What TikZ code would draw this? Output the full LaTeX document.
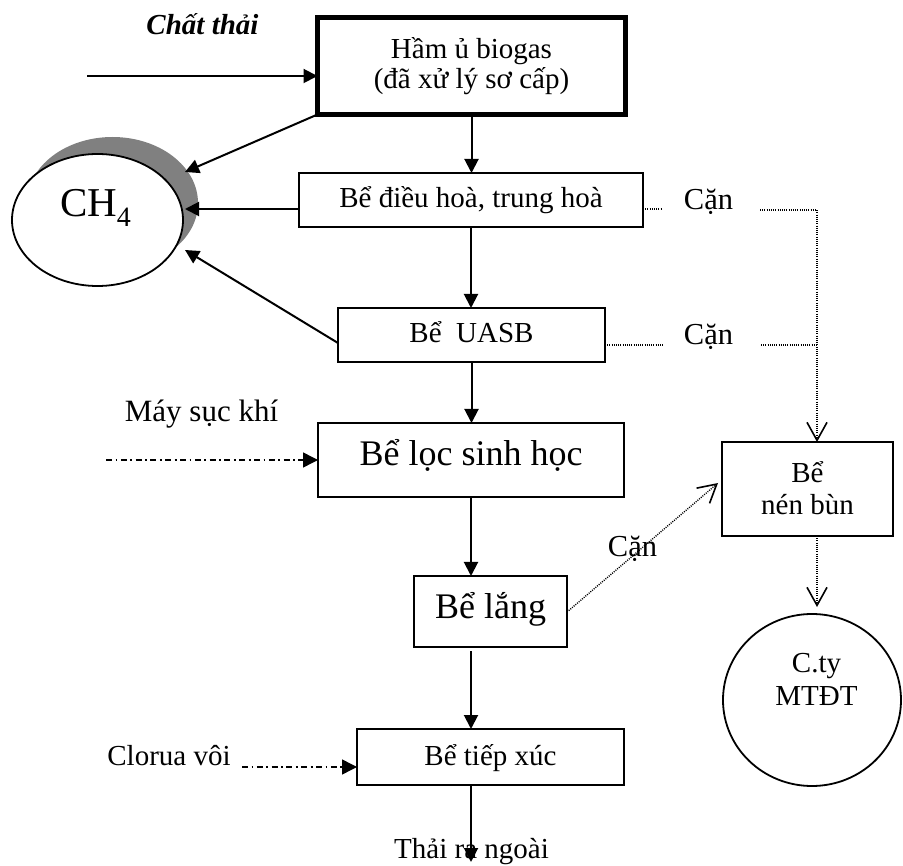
\documentclass[tikz,border=0pt]{standalone}
\usepackage{fontspec}
\setmainfont{Liberation Serif}
\usetikzlibrary{arrows.meta,shapes.geometric,shadows}

\begin{document}
\begin{tikzpicture}[x=1pt,y=-1pt,
  every node/.style={inner sep=0pt, outer sep=0pt},
  txt/.style={font=\fontsize{29}{30}\selectfont},
  bigtxt/.style={font=\fontsize{36}{40}\selectfont},
  stage/.style={draw, line width=2pt, rectangle, txt, text height=20pt, text depth=5pt},
  bigstage/.style={stage, bigtxt, text height=17pt, text depth=6pt},
  arr/.style={line width=2pt, -{Triangle[length=14pt,width=14pt]}},
  feed/.style={line width=1.5pt, dash pattern=on 6pt off 3.5pt on 1.8pt off 3.5pt,
               -{Triangle[length=15pt,width=15pt]}},
  sludge/.style={line width=1.4pt, dash pattern=on 1pt off 1.2pt},
  sludgearr/.style={sludge, -{Straight Barb[length=18pt,width=20pt,line width=1.6pt]}},
  sludgelabel/.style={anchor=base, font=\fontsize{30.5}{32}\selectfont},
]
\useasboundingbox (0,0) rectangle (903,866);

% treatment stages
\node[draw, line width=5pt, rectangle, txt, align=center,
      minimum width=308pt, minimum height=97pt] (ham) at (471.5,66)
      {Hầm ủ biogas\\(đã xử lý sơ cấp)};
\node[stage, minimum width=344pt, minimum height=54pt] (dieuhoa) at (471,200)
      {Bể điều hoà, trung hoà};
\node[stage, text height=21pt, minimum width=267pt, minimum height=54pt] (uasb) at (471.5,335)
      {Bể~\ UASB};
\node[bigstage, minimum width=306pt, minimum height=74pt] (loc) at (471,460)
      {Bể lọc sinh học};
\node[bigstage, text height=18pt, text depth=5pt, minimum width=153pt, minimum height=71pt] (lang) at (490.5,611.5)
      {Bể lắng};
\node[stage, text height=21pt, minimum width=267pt, minimum height=56pt] (tiepxuc) at (490.5,757)
      {Bể tiếp xúc};
\node[draw, line width=2pt, rectangle, align=center, font=\fontsize{29}{32}\selectfont,
      minimum width=171pt, minimum height=94pt] (nenbun) at (807.5,489)
      {\raisebox{3pt}{Bể}\\\raisebox{3pt}{nén bùn}};

% biogas collector with its shadow
\node[ellipse, draw, fill=white, line width=1.8pt, minimum width=171pt, minimum height=132pt,
      drop shadow={shadow xshift=15pt, shadow yshift=17pt, fill=black!50, opacity=1}]
      (ch4) at (97.5,220) {};
\node[anchor=base west, font=\fontsize{41}{41}\selectfont] (ch4txt) at (60,217)
      {CH\raisebox{-10pt}{\fontsize{28}{28}\selectfont 4}};

% sludge receiver
\node[ellipse, draw, line width=1.8pt, minimum width=178pt, minimum height=172pt]
      (cty) at (812,700) {};
\node[anchor=base, txt] (cty1) at (816.5,672) {C.ty};
\node[anchor=base, txt] (cty2) at (816.5,705) {MTĐT};

% free labels
\node[anchor=base, font=\fontsize{29}{30}\selectfont\bfseries\itshape] (chatthai) at (202.5,35) {Chất thải};
\node[anchor=base, font=\fontsize{31}{32}\selectfont] (maysuc) at (201.5,422) {Máy sục khí};
\node[anchor=base, txt] (clorua) at (169,765) {Clorua vôi};
\node[sludgelabel] (can1) at (708.5,210) {Cặn};
\node[sludgelabel] (can2) at (708.5,345) {Cặn};
\node[sludgelabel] (can3) at (632.5,557) {Cặn};
\node[anchor=base, txt] (thaira) at (471.5,858) {Thải ra ngoài};

% free ends of connectors
\coordinate (srcin) at (87,76);
\coordinate (ch4a) at (185,172);
\coordinate (ch4b) at (185,209);
\coordinate (ch4c) at (185,250);
\coordinate (c1a) at (662,209);
\coordinate (c1b) at (760,210);
\coordinate (c2a) at (663,345);
\coordinate (c2b) at (761,345);
\coordinate (jn) at (817,210);
\coordinate (nbin) at (718,483);
\coordinate (ctyin) at (817,607);
\coordinate (airsrc) at (106,460);
\coordinate (clsrc) at (242,767);
\coordinate (outlet) at (471,862);

% main flow
\draw[arr] (srcin) -- (srcin -| ham.west);
\draw[arr] (ham.south) -- (ham.south |- dieuhoa.north);
\draw[arr] (dieuhoa.south) -- (dieuhoa.south |- uasb.north);
\draw[arr] (uasb.south) -- (uasb.south |- loc.north);
\draw[arr] (loc.south) -- (loc.south |- lang.north);
\draw[arr, shorten <=4pt] (loc.south |- lang.south) -- (loc.south |- tiepxuc.north);
\draw[arr] (outlet |- tiepxuc.south) -- (outlet);

% gas to the collector
\draw[arr] (ham.south west) -- (ch4a);
\draw[arr] ([yshift=-9pt]dieuhoa.west) -- (ch4b);
\draw[arr] ([yshift=-8pt]uasb.west) -- (ch4c);

% dosing lines
\draw[feed] (airsrc) -- (loc.west);
\draw[feed] (clsrc) -- (clsrc -| tiepxuc.west);

% sludge lines
\draw[sludge] ([yshift=-9pt]dieuhoa.east) -- (c1a);
\draw[sludgearr] (c1b) -- (jn) -- (jn |- nenbun.north);
\draw[sludge] ([yshift=-10pt]uasb.east) -- (c2a);
\draw[sludge] (c2b) -- (c2b -| jn);
\draw[sludgearr] ([yshift=-0.5pt]lang.east) -- (nbin);
\draw[sludgearr] (nenbun.south -| jn) -- (ctyin);
\end{tikzpicture}
\end{document}
